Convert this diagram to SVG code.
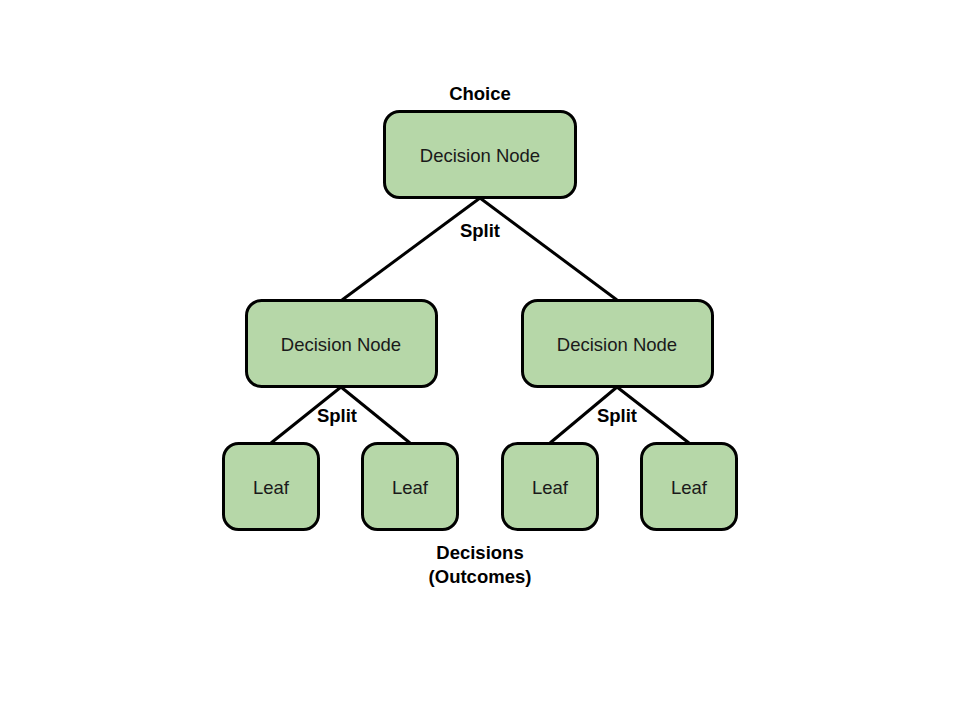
<svg xmlns="http://www.w3.org/2000/svg" width="960" height="720" viewBox="0 0 960 720">
<style>
.n{fill:#b6d7a8;stroke:#000;stroke-width:3}
.t{font-family:"Liberation Sans",Arial,sans-serif;font-size:18.5px;fill:#1a1a1a;text-anchor:middle;dominant-baseline:central}
.b{font-family:"Liberation Sans",Arial,sans-serif;font-size:18.5px;font-weight:bold;fill:#000;text-anchor:middle;dominant-baseline:central}
.c{stroke:#000;stroke-width:3;fill:none}
</style>
<rect width="960" height="720" fill="#fff"/>
<g id="connectors">
<line class="c" x1="480" y1="198" x2="342" y2="300"/>
<line class="c" x1="480" y1="198" x2="617" y2="300"/>
<line class="c" x1="341" y1="387" x2="271" y2="443"/>
<line class="c" x1="341" y1="387" x2="410" y2="443"/>
<line class="c" x1="617" y1="387" x2="550" y2="443"/>
<line class="c" x1="617" y1="387" x2="689" y2="443"/>
</g>
<g id="root"><rect class="n" x="384.5" y="111.5" width="191" height="86" rx="15"/><text class="t" x="480" y="155">Decision Node</text></g>
<g id="midL"><rect class="n" x="246.5" y="300.5" width="190" height="86" rx="15"/><text class="t" x="341" y="344">Decision Node</text></g>
<g id="midR"><rect class="n" x="522.5" y="300.5" width="190" height="86" rx="15"/><text class="t" x="617" y="344">Decision Node</text></g>
<g id="leaf1"><rect class="n" x="223.5" y="443.5" width="95" height="86" rx="15"/><text class="t" x="271" y="487">Leaf</text></g>
<g id="leaf2"><rect class="n" x="362.5" y="443.5" width="95" height="86" rx="15"/><text class="t" x="410" y="487">Leaf</text></g>
<g id="leaf3"><rect class="n" x="502.5" y="443.5" width="95" height="86" rx="15"/><text class="t" x="550" y="487">Leaf</text></g>
<g id="leaf4"><rect class="n" x="641.5" y="443.5" width="95" height="86" rx="15"/><text class="t" x="689" y="487">Leaf</text></g>
<g id="labels">
<text class="b" x="480" y="93">Choice</text>
<text class="b" x="480" y="230">Split</text>
<text class="b" x="337" y="415">Split</text>
<text class="b" x="617" y="415">Split</text>
<text class="b" x="480" y="552">Decisions</text>
<text class="b" x="480" y="576">(Outcomes)</text>
</g>
</svg>
